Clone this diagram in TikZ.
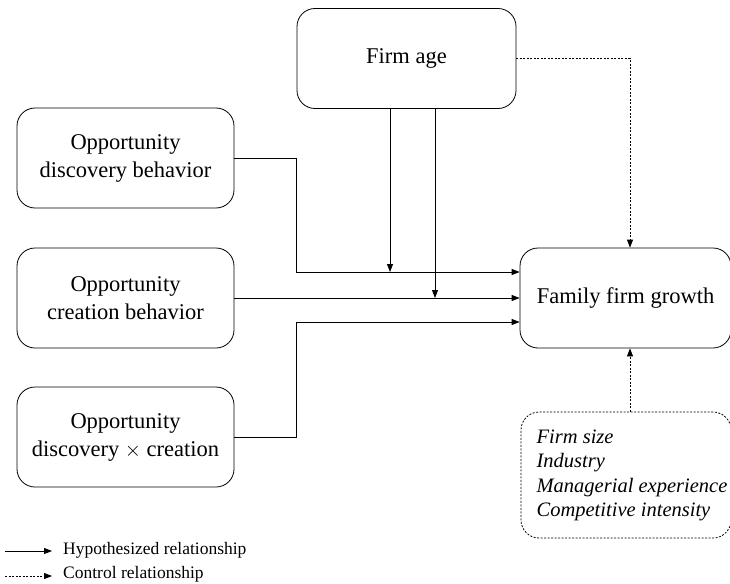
\documentclass[tikz,border=0pt]{standalone}
\usepackage{fontspec}
\setmainfont{Liberation Serif}
\usetikzlibrary{arrows.meta,calc}
\begin{document}
\begin{tikzpicture}[x=1pt,y=-1pt,
  box/.style={draw, line width=0.8pt, rounded corners=18pt, align=center,
    font=\fontsize{22.5}{28}\selectfont, inner sep=0pt},
  hyp/.style={draw, line width=0.8pt, -{Triangle[length=8pt,width=6pt]}},
  ctl/.style={draw, line width=0.8pt, dash pattern=on 2pt off 1.5pt,
    -{Triangle[length=8pt,width=6pt]}},
  lbl/.style={anchor=west, font=\fontsize{17.5}{20}\selectfont, inner sep=0pt}]
\useasboundingbox (0,0) rectangle (730,583);
% boxes
\node[box, minimum width=219pt, minimum height=100pt] (age) at (406.5,58.5) {Firm age};
\node[box, minimum width=217pt, minimum height=100pt] (disc) at (125.5,158) {Opportunity\\discovery behavior};
\node[box, minimum width=217pt, minimum height=100pt] (crea) at (125.5,298) {Opportunity\\creation behavior};
\node[box, minimum width=217pt, minimum height=100pt] (inter) at (125.5,437) {Opportunity\\discovery $\times$ creation};
\node[box, minimum width=211pt, minimum height=100pt] (growth) at (625.5,298) {Family firm growth};
\node[box, dash pattern=on 2pt off 1.5pt, minimum width=210pt, minimum height=126pt,
  font=\fontsize{20.5}{24.3}\selectfont\itshape] (ctrl) at (626,475)
  {\raisebox{-4pt}{\begin{tabular}{@{\hspace{12pt}}l@{}}Firm size\\Industry\\Managerial experience\\Competitive intensity\end{tabular}}};
% helper coordinates
\coordinate (g1) at ($(growth.west)+(0,-26)$);
\coordinate (g3) at ($(growth.west)+(0,24)$);
\coordinate (a1) at ($(age.south)+(-16.5,0)$);
\coordinate (a2) at ($(age.south)+(28.5,0)$);
\coordinate (cx) at (630,0);
% hypothesized relationships
\draw[hyp] (disc.east) -- ++(62,0) |- (g1);
\draw[hyp] (crea.east) -- (growth.west);
\draw[hyp] (inter.east) -- ++(62,0) |- (g3);
\draw[hyp] (a1) -- (a1 |- g1);
\draw[hyp] (a2) -- (a2 |- growth.west);
% control relationships
\draw[ctl] (age.east) -| (cx |- growth.north);
\draw[ctl] (cx |- ctrl.north) -- (cx |- growth.south);
% legend
\coordinate (l1s) at (5,551);
\coordinate (l1e) at (52,551);
\coordinate (l2s) at (5,576);
\coordinate (l2e) at (52,576);
\draw[hyp] (l1s) -- (l1e);
\draw[ctl] (l2s) -- (l2e);
\node[lbl] (l1) at (63,550) {Hypothesized relationship};
\node[lbl] (l2) at (63,574.5) {Control relationship};
\end{tikzpicture}
\end{document}
